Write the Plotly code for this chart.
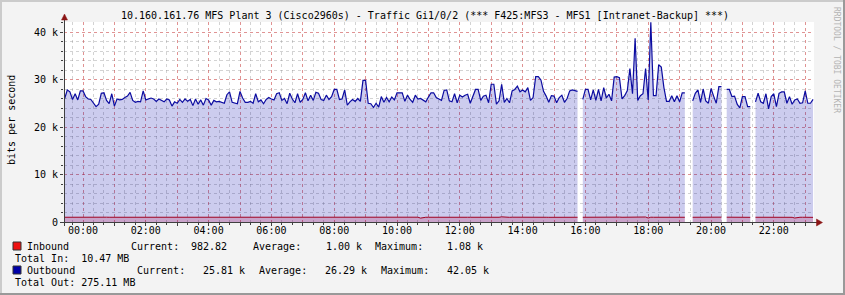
import plotly.graph_objects as go
import pandas as pd

# ---------------- data ----------------
TITLE = "10.160.161.76 MFS Plant 3 (Cisco2960s) - Traffic Gi1/0/2 (*** F425:MFS3 - MFS1 [Intranet-Backup] ***)"
START = "2024-01-01 23:25"   # first 5-minute sample
STEP = "5min"

# Outbound (k bits/s), 5-minute samples, one row per hour
outbound_k = [
    26.0, 27.8, 27.4, 25.8, 27.0, 25.7, 27.6,                                   # 23:25-23:55
    27.6, 26.4, 25.9, 25.8, 25.0, 24.3, 24.8, 27.1, 27.2, 25.6, 24.9, 27.0,     # 00
    24.4, 25.9, 25.7, 25.8, 26.2, 26.5, 27.3, 25.6, 25.2, 25.4, 25.3, 27.6,     # 01
    25.7, 25.9, 26.1, 25.9, 25.4, 25.9, 25.6, 25.3, 25.9, 25.7, 24.4, 25.3,     # 02
    25.0, 25.8, 25.2, 25.9, 25.4, 25.8, 24.5, 25.9, 24.8, 25.7, 24.6, 26.0,     # 03
    25.7, 24.6, 25.6, 25.3, 25.4, 25.2, 25.0, 26.8, 27.4, 25.2, 25.0, 24.9,     # 04
    27.5, 26.1, 25.2, 25.2, 25.4, 25.0, 27.0, 25.3, 25.7, 24.9, 25.8, 26.2,     # 05
    25.9, 25.7, 27.0, 27.2, 25.6, 26.0, 24.9, 27.1, 25.9, 25.1, 27.0, 25.2,     # 06
    25.8, 27.2, 25.5, 26.7, 25.6, 27.3, 27.1, 25.8, 25.6, 26.7, 25.8, 26.4,     # 07
    27.9, 27.9, 25.8, 25.9, 27.8, 24.6, 25.3, 25.8, 25.4, 26.0, 25.4, 29.8,     # 08
    29.8, 25.0, 24.9, 24.1, 25.0, 24.2, 26.4, 25.2, 26.2, 25.3, 26.3, 25.7,     # 09
    27.2, 27.2, 27.2, 25.4, 26.7, 25.8, 25.2, 26.7, 25.9, 26.0, 25.6, 25.3,     # 10
    26.3, 27.2, 27.2, 26.2, 25.9, 25.6, 27.7, 27.8, 25.5, 25.3, 27.0, 25.1,     # 11
    26.7, 26.3, 26.7, 26.9, 25.0, 26.6, 27.9, 27.9, 25.6, 26.5, 26.7, 25.1,     # 12
    29.0, 29.0, 24.8, 25.5, 29.0, 25.2, 26.0, 25.1, 27.6, 27.9, 28.6, 27.4,     # 13
    27.8, 27.4, 28.3, 25.6, 26.2, 30.6, 30.6, 29.9, 27.5, 26.5, 25.2, 26.6,     # 14
    26.5, 25.1, 26.2, 26.7, 25.2, 26.0, 27.6, 27.8, 27.6, 27.5, None, 25.8,     # 15
    27.9, 27.9, 25.7, 27.8, 25.6, 27.9, 25.5, 28.3, 26.1, 26.9, 25.5, 30.5,     # 16
    30.6, 30.4, 25.9, 26.6, 27.6, 32.3, 27.0, 38.7, 25.6, 26.6, 27.0, 32.3,     # 17
    25.7, 42.05, 26.6, 26.6, 33.1, 32.6, 28.3, 25.4, 25.4, 26.6, 25.3, 26.6,    # 18
    25.3, 27.2, 27.2, None, None, 25.5, 27.1, 27.8, 25.2, 28.0, 25.5, 25.0,     # 19
    28.1, 26.5, 25.0, 28.5, 28.5, None, 27.9, 27.9, 26.4, 26.5, 24.8, 24.0,     # 20
    26.4, 26.4, 24.3, 24.3, None, 25.3, 27.1, 25.3, 25.0, 27.0, 23.8, 26.4,     # 21
    27.0, 24.3, 27.1, 27.4, 27.4, 25.0, 26.4, 24.8, 25.7, 25.9, 25.0, 25.1,     # 22
    27.6, 25.0, 25.0, 25.8,                                                     # 23:00-23:15
]

# Inbound (k bits/s), same samples
inbound_k = [
    1.00, 1.01, 1.00, 1.00, 0.99, 1.00, 1.01,
    1.00, 1.00, 0.99, 1.01, 1.00, 1.00, 1.00, 0.99, 1.00, 1.01, 1.00, 1.00,
    1.00, 0.99, 1.00, 1.00, 1.01, 1.00, 1.00, 1.00, 0.99, 1.00, 1.00, 1.01,
    1.00, 1.00, 1.00, 0.99, 1.00, 1.01, 1.00, 1.00, 1.00, 0.99, 1.00, 1.00,
    1.01, 1.00, 1.00, 1.00, 0.99, 1.00, 1.00, 1.01, 1.00, 1.00, 0.99, 1.00,
    1.00, 1.00, 1.01, 1.00, 1.00, 0.99, 1.00, 1.00, 1.00, 1.01, 1.00, 1.00,
    0.99, 1.00, 1.00, 1.00, 1.01, 1.00, 1.00, 0.99, 1.00, 1.00, 1.00, 1.01,
    1.00, 1.00, 0.99, 1.00, 1.00, 1.01, 1.00, 1.00, 1.00, 0.99, 1.00, 1.00,
    1.01, 1.00, 1.00, 1.00, 0.99, 1.00, 1.00, 1.01, 1.00, 1.00, 1.00, 0.99,
    1.00, 1.02, 1.00, 1.00, 1.01, 1.00, 0.99, 1.00, 1.00, 1.00, 1.01, 1.03,
    1.02, 1.00, 1.00, 0.99, 1.00, 1.00, 1.01, 1.00, 1.00, 1.00, 0.99, 1.00,
    1.01, 1.00, 1.00, 1.00, 0.99, 1.00, 1.00, 1.00, 1.01, 0.82, 0.98, 1.00,
    1.00, 1.01, 1.00, 1.00, 0.99, 1.00, 1.01, 1.00, 1.00, 1.00, 0.99, 1.00,
    1.00, 1.00, 1.01, 1.00, 1.00, 0.99, 1.00, 1.01, 1.00, 1.00, 1.00, 0.99,
    1.04, 1.03, 1.00, 1.00, 1.08, 1.00, 1.00, 0.99, 1.01, 1.02, 1.03, 1.00,
    1.01, 1.00, 1.02, 1.00, 1.00, 1.05, 1.06, 1.04, 1.00, 1.00, 0.99, 1.00,
    1.00, 0.99, 1.00, 1.00, 1.00, 1.00, 1.01, 1.02, 1.01, 1.00, None, 1.00,
    1.01, 1.01, 1.00, 1.01, 1.00, 1.01, 0.99, 1.02, 1.00, 1.00, 1.00, 1.04,
    1.04, 1.03, 1.00, 1.00, 1.01, 1.06, 1.00, 1.07, 1.00, 1.00, 1.01, 1.05,
    0.84, 1.01, 1.00, 1.00, 1.05, 1.04, 1.02, 1.00, 0.99, 1.00, 1.00, 1.00,
    1.00, 1.01, 1.00, None, None, 1.00, 1.00, 1.01, 1.00, 1.01, 1.00, 1.00,
    1.01, 1.00, 1.00, 1.02, 1.02, None, 1.01, 1.01, 1.00, 1.00, 0.99, 0.99,
    1.00, 1.00, 0.99, 0.99, None, 1.00, 1.01, 1.00, 1.00, 1.01, 0.99, 1.00,
    1.01, 0.99, 1.01, 1.01, 1.01, 1.00, 1.00, 0.99, 0.84, 1.00, 1.00, 1.00,
    1.01, 1.00, 0.99, 0.98,
]

x_tick_hours = list(range(0, 24))
x_tick_labels = ["%02d:00" % h if h % 2 == 0 else "" for h in x_tick_hours]
y_tick_vals = [0, 10, 20, 30, 40]
y_tick_labels = ["0", "10 k", "20 k", "30 k", "40 k"]

legend_rows = [
    # (label, current, average, maximum, total line)
    ("Inbound", "982.82", "1.00 k", "1.08 k", "Total In:\u00a0\u00a010.47 MB"),
    ("Outbound", "25.81 k", "26.29 k", "42.05 k", "Total Out: 275.11 MB"),
]

# ---------------- layout helpers ----------------
W, H = 845, 295
L, R, T, B = 64, 814, 22, 222
MONO = "DejaVu Sans Mono"


def px(x):
    return (x - L) / (R - L)


def py(y):
    return (B - y) / (B - T)


times = list(pd.date_range(START, periods=len(outbound_k), freq=STEP))
day0 = pd.Timestamp("2024-01-02 00:00")
x_tick_vals = [day0 + pd.Timedelta(hours=h) for h in x_tick_hours]
x_left = day0 - pd.Timedelta(minutes=36.3)
x_right = day0 + pd.Timedelta(hours=23, minutes=16.8)


def segments(xs, ys):
    """Split a series into runs of valid samples (gaps = None)."""
    out, cx, cy = [], [], []
    for a, b in zip(xs, ys):
        if b is None:
            if cx:
                out.append((cx, cy))
            cx, cy = [], []
        else:
            cx.append(a)
            cy.append(b)
    if cx:
        out.append((cx, cy))
    return out


fig = go.Figure()
for sx, sy in segments(times, outbound_k):
    fig.add_trace(go.Scatter(
        x=sx, y=sy, mode="lines", fill="tozeroy",
        fillcolor="rgba(0,0,170,0.2)", line=dict(color="#0c0ca0", width=1.2),
        hoverinfo="skip", showlegend=False))
for sx, sy in segments(times, inbound_k):
    fig.add_trace(go.Scatter(
        x=sx, y=sy, mode="lines", fill="tozeroy",
        fillcolor="rgba(190,0,60,0.2)", line=dict(color="#a00020", width=1),
        hoverinfo="skip", showlegend=False))

annotations = []


def txt(x, y, s, size=10, color="#000", anchor="left", angle=0):
    annotations.append(dict(
        xref="paper", yref="paper", x=px(x), y=py(y), text=s, showarrow=False,
        xanchor=anchor, yanchor="middle", textangle=angle, borderpad=0,
        font=dict(family=MONO, size=size, color=color)))


txt(425, 15, TITLE, anchor="center")
txt(11, 120, "bits per second", anchor="center", angle=-90)
txt(836, 60, "RRDTOOL / TOBI OETIKER", size=8, color="#b4b4b4", anchor="center", angle=90)

rows_y = [(246, 258), (270, 282)]
col_x = [(130, 190, 252, 325, 374, 446), (136, 202, 258, 324, 380, 446)]
for (lab, cur, avg, mx, tot), (y1, y2), cx in zip(legend_rows, rows_y, col_x):
    txt(26, y1, lab)
    txt(cx[0], y1, "Current:")
    txt(cx[1], y1, cur)
    txt(cx[2], y1, "Average:")
    txt(cx[3], y1, avg)
    txt(cx[4], y1, "Maximum:")
    txt(cx[5], y1, mx)
    txt(14, y2, tot)

shapes = []


def pline(x0, y0, x1, y1, color, width=1):
    shapes.append(dict(type="line", xref="paper", yref="paper",
                       x0=px(x0), y0=py(y0), x1=px(x1), y1=py(y1),
                       line=dict(color=color, width=width), layer="above"))


def prect(x0, y0, x1, y1, fill, border):
    shapes.append(dict(type="rect", xref="paper", yref="paper",
                       x0=px(x0), y0=py(y0), x1=px(x1), y1=py(y1),
                       fillcolor=fill, line=dict(color=border, width=1), layer="above"))


def ptri(pts, color):
    path = "M " + " L ".join("%f,%f" % (px(a), py(b)) for a, b in pts) + " Z"
    shapes.append(dict(type="path", xref="paper", yref="paper", path=path,
                       fillcolor=color, line=dict(color=color, width=0.5), layer="above"))


# frame of the image
pline(0, 1, 845, 1, "#cbcbcb", 2)
pline(1, 0, 1, 295, "#cbcbcb", 2)
pline(0, 294, 845, 294, "#999999", 2)
pline(844, 0, 844, 295, "#999999", 2)

# axes with arrows
pline(61, 222.5, 817, 222.5, "#404040", 1)
pline(64.5, 226, 64.5, 19, "#404040", 1)
ptri([(816.5, 219), (822.5, 222.5), (816.5, 226)], "#8b1515")
ptri([(61.5, 20), (64.5, 14), (67.5, 20)], "#8b1515")

# legend swatches
prect(13, 242, 21, 250, "#ee1111", "#333333")
prect(13, 266, 21, 274, "#0000a8", "#333333")

fig.update_layout(
    width=W, height=H,
    margin=dict(l=L, r=W - R, t=T, b=H - B, pad=0),
    paper_bgcolor="#f3f3f3", plot_bgcolor="#ffffff",
    font=dict(family=MONO, size=10, color="#000"),
    annotations=annotations, shapes=shapes, showlegend=False,
)
fig.update_xaxes(
    type="date", range=[x_left, x_right],
    tickmode="array", tickvals=x_tick_vals, ticktext=x_tick_labels,
    ticks="outside", ticklen=3, tickcolor="#404040", tickwidth=1,
    ticklabelstandoff=-4,
    tickfont=dict(family=MONO, size=10, color="#000"),
    showgrid=True, gridcolor="rgba(255,0,0,0.3)", griddash="dot", gridwidth=1,
    minor=dict(tickmode="linear", tick0=day0, dtick=20 * 60 * 1000,
               showgrid=True, gridcolor="rgba(130,130,130,0.35)", griddash="dot",
               ticks="outside", ticklen=2, tickcolor="#404040"),
    showline=False, zeroline=False, fixedrange=True,
)
fig.update_yaxes(
    range=[0, 42.105],
    tickmode="array", tickvals=y_tick_vals, ticktext=y_tick_labels,
    ticks="outside", ticklen=3, tickcolor="#404040",
    tickfont=dict(family=MONO, size=10, color="#000"),
    showgrid=True, gridcolor="rgba(255,0,0,0.3)", griddash="dot", gridwidth=1,
    minor=dict(tickmode="linear", tick0=0, dtick=2,
               showgrid=True, gridcolor="rgba(130,130,130,0.35)", griddash="dot",
               ticks="outside", ticklen=2, tickcolor="#404040"),
    showline=False, zeroline=False, fixedrange=True,
)

fig.write_html("out.html")
